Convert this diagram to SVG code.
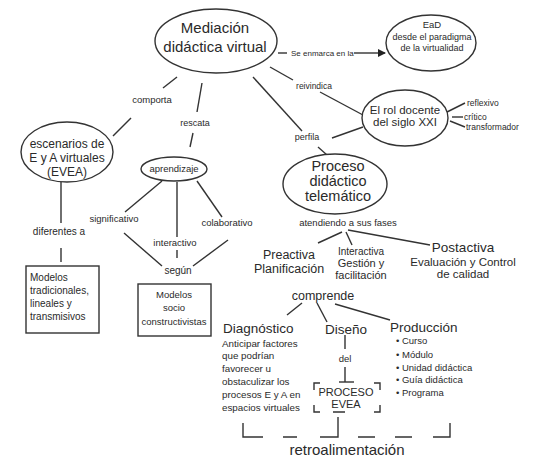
<svg xmlns="http://www.w3.org/2000/svg" width="541" height="468" viewBox="0 0 541 468">
<style>
text{font-family:"Liberation Sans",Arial,sans-serif;fill:#2a2a2a}
.c{text-anchor:middle}
.n{fill:#fff;stroke:#333;stroke-width:1.4}
.l{stroke:#333;stroke-width:1.4;fill:none}
.s{font-size:9.5px}
</style>
<defs>
<marker id="ah" markerWidth="8" markerHeight="8" refX="7" refY="4" orient="auto" markerUnits="userSpaceOnUse"><path d="M0,0 L8,4 L0,8 Z" fill="#222"/></marker>
</defs>
<rect width="541" height="468" fill="#fff"/>
<g id="connectors" class="l">
<line x1="278" y1="53" x2="287" y2="53"/>
<line x1="354" y1="53" x2="385" y2="53" marker-end="url(#ah)"/>
<line x1="177" y1="77" x2="163" y2="88"/>
<line x1="131" y1="118" x2="113" y2="136"/>
<line x1="202" y1="83" x2="197" y2="112"/>
<line x1="193" y1="133" x2="190" y2="147"/>
<line x1="270" y1="67" x2="293" y2="80"/>
<line x1="320" y1="92" x2="363" y2="115"/>
<line x1="253" y1="77" x2="302" y2="131"/>
<line x1="318" y1="147" x2="327" y2="155"/>
<line x1="332" y1="138" x2="363" y2="127"/>
<line x1="447" y1="112" x2="465" y2="103"/>
<line x1="452" y1="117" x2="463" y2="117"/>
<line x1="450" y1="121" x2="465" y2="127"/>
<line x1="61" y1="182" x2="61" y2="223"/>
<line x1="61" y1="248" x2="61" y2="262"/>
<line x1="162" y1="181" x2="125" y2="212"/>
<line x1="177" y1="182" x2="177" y2="237"/>
<line x1="177" y1="250" x2="177" y2="258"/>
<line x1="197" y1="181" x2="222" y2="217"/>
<line x1="124" y1="233" x2="162" y2="266"/>
<line x1="228" y1="240" x2="193" y2="266"/>
<line x1="342" y1="232" x2="318" y2="243"/>
<line x1="346" y1="232" x2="352" y2="245"/>
<line x1="348" y1="230" x2="430" y2="245"/>
<line x1="302" y1="303" x2="287" y2="315"/>
<line x1="317" y1="303" x2="327" y2="322"/>
<line x1="335" y1="304" x2="390" y2="320"/>
<line x1="345" y1="335" x2="345" y2="349"/>
<line x1="345" y1="367" x2="345" y2="382"/>
<line x1="339" y1="382" x2="354" y2="382"/>
<path d="M314,390 V383 H320 M374,383 H380 V390 M314,405 V412 H320 M374,412 H380 V405 M333,412 H345"/>
<path d="M243,423 V437 H263 M283,437 H297 M320,437 H338 V417 M358,437 H375 M395,437 H412 M433,437 H450 V423"/>
</g>
<g id="mediacion">
<ellipse class="n" cx="216" cy="41" rx="61" ry="32"/>
<text class="c" x="215" y="33" font-size="15">Mediación</text>
<text class="c" x="215" y="52" font-size="15">didáctica virtual</text>
</g>
<g id="enmarca-label"><text x="291" y="56" font-size="8">Se enmarca en la</text></g>
<g id="ead">
<ellipse class="n" cx="431" cy="43" rx="45" ry="28"/>
<text class="c" x="432" y="28" font-size="9.5">EaD</text>
<text class="c" x="432" y="40" font-size="9">desde el paradigma</text>
<text class="c" x="432" y="51" font-size="9">de la virtualidad</text>
</g>
<g id="labels-top">
<text class="c s" x="152" y="103">comporta</text>
<text class="c" x="195" y="126" font-size="9">rescata</text>
<text class="c" x="314" y="89" font-size="8.5">reivindica</text>
<text class="c" x="307" y="140" font-size="9">perfila</text>
</g>
<g id="rol-docente">
<ellipse class="n" cx="405" cy="118" rx="43" ry="28"/>
<text class="c" x="405" y="114" font-size="11.5">El rol docente</text>
<text class="c" x="405" y="126" font-size="11.5">del siglo XXI</text>
</g>
<g id="rol-traits">
<text x="467" y="106" font-size="8.5">reflexivo</text>
<text x="464" y="120" font-size="8.5">crítico</text>
<text x="466" y="130" font-size="8.5">transformador</text>
</g>
<g id="escenarios">
<ellipse class="n" cx="67" cy="152" rx="46" ry="30"/>
<text class="c" x="67" y="148" font-size="12">escenarios de</text>
<text class="c" x="67" y="162" font-size="12">E y A virtuales</text>
<text class="c" x="67" y="176" font-size="12">(EVEA)</text>
</g>
<g id="aprendizaje">
<ellipse class="n" cx="174" cy="169" rx="33" ry="12"/>
<text class="c s" x="174" y="172">aprendizaje</text>
</g>
<g id="labels-mid">
<text class="c" x="59" y="235" font-size="10">diferentes a</text>
<text class="c s" x="114" y="222">significativo</text>
<text class="c s" x="227" y="226">colaborativo</text>
<text class="c s" x="175" y="246">interactivo</text>
<text class="c" x="178" y="274" font-size="10">según</text>
</g>
<g id="modelos-tradicionales">
<rect class="n" x="26" y="266" width="73" height="67"/>
<text x="30" y="281" font-size="10">Modelos</text>
<text x="30" y="294" font-size="10">tradicionales,</text>
<text x="30" y="307" font-size="10">lineales y</text>
<text x="30" y="320" font-size="10">transmisivos</text>
</g>
<g id="modelos-socio">
<rect class="n" x="138" y="284" width="73" height="52"/>
<text class="c s" x="174" y="298">Modelos</text>
<text class="c s" x="174" y="311">socio</text>
<text class="c s" x="174" y="325">constructivistas</text>
</g>
<g id="proceso">
<ellipse class="n" cx="335" cy="184" rx="52" ry="30"/>
<text class="c" x="338" y="171" font-size="14.5">Proceso</text>
<text class="c" x="338" y="186" font-size="14.5">didáctico</text>
<text class="c" x="338" y="201" font-size="14.5">telemático</text>
</g>
<g id="fases-label"><text class="c s" x="348" y="226">atendiendo a sus fases</text></g>
<g id="preactiva">
<text class="c" x="289" y="259" font-size="12.5">Preactiva</text>
<text class="c" x="289" y="272.5" font-size="12.5">Planificación</text>
</g>
<g id="interactiva">
<text class="c" x="361" y="254.5" font-size="10">Interactiva</text>
<text class="c" x="361" y="266.5" font-size="11">Gestión y</text>
<text class="c" x="361" y="278.5" font-size="11">facilitación</text>
</g>
<g id="postactiva">
<text class="c" x="463" y="252" font-size="13.5">Postactiva</text>
<text class="c" x="463" y="265.5" font-size="11.5">Evaluación y Control</text>
<text class="c" x="463" y="277.5" font-size="11.5">de calidad</text>
</g>
<g id="comprende"><text class="c" x="323" y="300" font-size="12.5">comprende</text></g>
<g id="diagnostico">
<text x="223" y="333" font-size="13.5">Diagnóstico</text>
<text x="222" y="346.5" font-size="9.8">Anticipar factores</text>
<text x="222" y="358.5" font-size="9.8">que podrían</text>
<text x="222" y="371.5" font-size="9.8">favorecer u</text>
<text x="222" y="384.5" font-size="9.8">obstaculizar los</text>
<text x="222" y="397.5" font-size="9.8">procesos E y A en</text>
<text x="222" y="410.5" font-size="9.8">espacios virtuales</text>
</g>
<g id="diseno">
<text class="c" x="346" y="334" font-size="13.5">Diseño</text>
<text class="c s" x="345" y="362">del</text>
</g>
<g id="proceso-evea">
<text class="c" x="346" y="396" font-size="11">PROCESO</text>
<text class="c" x="346" y="407.5" font-size="11">EVEA</text>
</g>
<g id="produccion">
<text x="390" y="332" font-size="13.5">Producción</text>
<text x="396" y="343.5" class="s">• Curso</text>
<text x="396" y="357.5" class="s">• Módulo</text>
<text x="396" y="370.5" class="s">• Unidad didáctica</text>
<text x="396" y="382.5" class="s">• Guía didáctica</text>
<text x="396" y="395.5" class="s">• Programa</text>
</g>
<g id="retroalimentacion"><text class="c" x="347" y="455" font-size="15">retroalimentación</text></g>
</svg>
